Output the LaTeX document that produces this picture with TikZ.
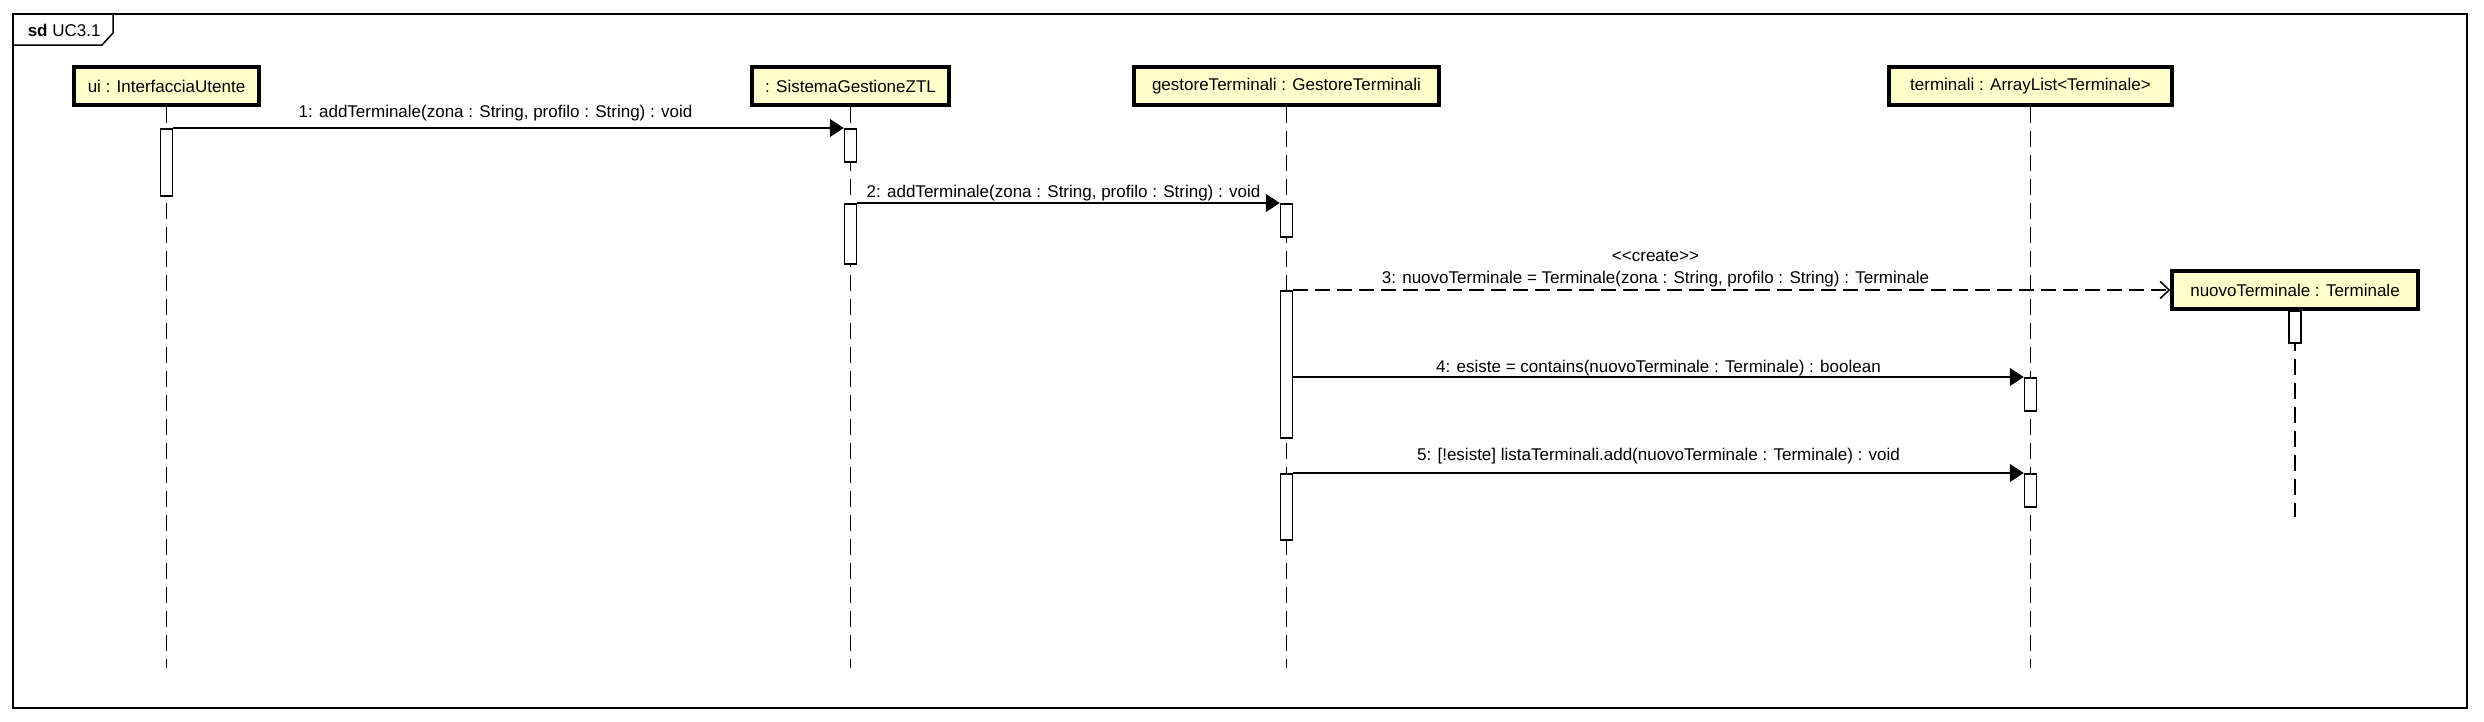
\documentclass[tikz,border=0pt]{standalone}
\usepackage{fontspec}
\setmainfont{Liberation Sans}
\usetikzlibrary{arrows.meta}
\definecolor{objfill}{HTML}{FFFFCC}

\begin{document}
\begin{tikzpicture}[x=1pt, y=-1pt, line width=1.5pt, font=\fontsize{17}{20}\selectfont,
        obj/.style={draw, line width=3.5pt, fill=objfill, minimum height=38pt, inner sep=0pt},
        bar/.style={draw, line width=1.5pt, fill=white, minimum width=12pt, inner sep=0pt, anchor=north},
        life/.style={line width=1.5pt, dash pattern=on 16pt off 8pt},
        msg/.style={-{Triangle[length=14pt, width=18pt]}},
        create/.style={dash pattern=on 15pt off 7pt, -{Straight Barb[length=9pt, width=17pt]}}]
        \useasboundingbox (0, 0) rectangle (2484, 721);
        \draw (13, 14) rectangle (2467, 708);
        \draw (13, 45) -- (102, 45) -- (113, 33) -- (113, 14);
        \node[anchor=base west, inner sep=0pt] (title) at (27, 36) {\textbf{sd} UC3.1};
        \node[obj, minimum width=185pt] (ui) at (166.5, 86) {ui : InterfacciaUtente};
        \node[obj, minimum width=197pt] (sis) at (850.5, 86) {: SistemaGestioneZTL};
        \node[obj, minimum width=305pt] (ges) at (1286.5, 86) {gestoreTerminali : GestoreTerminali};
        \node[obj, minimum width=283pt] (ter) at (2030.5, 86) {terminali : ArrayList<Terminale>};
        \node[obj, minimum width=246pt] (nuo) at (2295, 290) {nuovoTerminale : Terminale};
        \coordinate (uiend) at (166.5, 668);
        \coordinate (sisend) at (850.5, 668);
        \coordinate (gesend) at (1286.5, 668);
        \coordinate (terend) at (2030.5, 668);
        \coordinate (nuoend) at (2295, 517);
        \draw[life] (ui.south) -- (uiend);
        \draw[life] (sis.south) -- (sisend);
        \draw[life] (ges.south) -- (gesend);
        \draw[life] (ter.south) -- (terend);
        \draw[life] (nuo.south) -- (nuoend);
        \node[bar, minimum height=67pt] (ub) at (166.5, 128) {};
        \node[bar, minimum height=33pt] (sb1) at (850.5, 128) {};
        \node[bar, minimum height=60pt] (sb2) at (850.5, 203) {};
        \node[bar, minimum height=33pt] (gb1) at (1286.5, 203) {};
        \node[bar, minimum height=147pt] (gb2) at (1286.5, 290) {};
        \node[bar, minimum height=66pt] (gb3) at (1286.5, 473) {};
        \node[bar, minimum height=33pt] (tb1) at (2030.5, 377) {};
        \node[bar, minimum height=33pt] (tb2) at (2030.5, 473) {};
        \node[bar, minimum height=32pt] (nb) at (2295, 310) {};
        \draw[msg] (ub.north east) -- (sb1.north west) node[pos=0.5, anchor=base, xshift=-13pt, yshift=11pt] {1: addTerminale(zona : String, profilo : String) : void};
        \draw[msg] (sb2.north east) -- (gb1.north west) node[pos=0.5, anchor=base, xshift=-5pt, yshift=6pt] {2: addTerminale(zona : String, profilo : String) : void};
        \draw[create] (gb2.north east) -- (nuo.west) node[pos=0.413, anchor=base, yshift=7pt] {3: nuovoTerminale = Terminale(zona : String, profilo : String) : Terminale} node[pos=0.413, anchor=base, yshift=29pt] {\textless{}\textless{}create\textgreater{}\textgreater{}};
        \draw[msg] (gb2.east |- tb1.north) -- (tb1.north west) node[pos=0.5, anchor=base, yshift=5pt] {4: esiste = contains(nuovoTerminale : Terminale) : boolean};
        \draw[msg] (gb3.north east) -- (tb2.north west) node[pos=0.5, anchor=base, yshift=13pt] {5: [!esiste] listaTerminali.add(nuovoTerminale : Terminale) : void};
    \end{tikzpicture}
\end{document}
